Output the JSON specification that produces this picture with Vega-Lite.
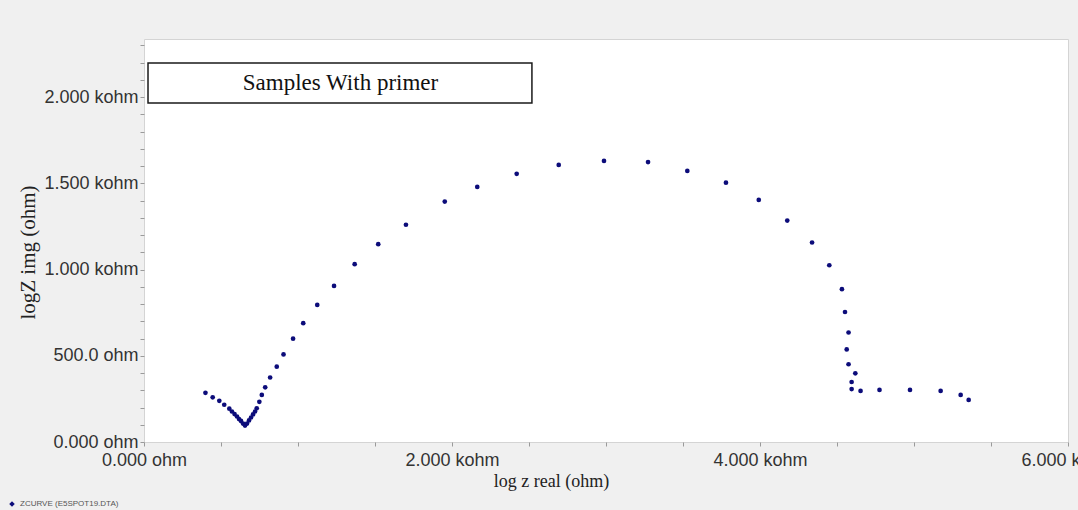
{
  "$schema": "https://vega.github.io/schema/vega-lite/v6.json",
  "width": 924,
  "height": 403,
  "autosize": {"type": "none"},
  "padding": {"left": 144, "top": 39, "right": 10, "bottom": 68},
  "background": "#f0f0f0",
  "config": {
    "view": {"fill": "white", "stroke": "#d4d4d4", "strokeWidth": 1},
    "axis": {
      "grid": false,
      "domain": false,
      "tickColor": "#9a9a9a",
      "tickSize": 4,
      "labelFont": "Liberation Sans",
      "labelFontSize": 18,
      "labelColor": "#333333",
      "labelFlush": false,
      "labelOverlap": false,
      "labelBound": false,
      "titleFont": "Liberation Serif",
      "titleFontWeight": "normal",
      "titleColor": "#222222"
    }
  },
  "layer": [
    {
      "data": {
        "values": [
          {"zreal": 399, "zimg": 285, "series": "ZCURVE (E5SPOT19.DTA)"},
          {"zreal": 446, "zimg": 259, "series": "ZCURVE (E5SPOT19.DTA)"},
          {"zreal": 489, "zimg": 239, "series": "ZCURVE (E5SPOT19.DTA)"},
          {"zreal": 521, "zimg": 216, "series": "ZCURVE (E5SPOT19.DTA)"},
          {"zreal": 554, "zimg": 193, "series": "ZCURVE (E5SPOT19.DTA)"},
          {"zreal": 571, "zimg": 177, "series": "ZCURVE (E5SPOT19.DTA)"},
          {"zreal": 588, "zimg": 162, "series": "ZCURVE (E5SPOT19.DTA)"},
          {"zreal": 604, "zimg": 148, "series": "ZCURVE (E5SPOT19.DTA)"},
          {"zreal": 617, "zimg": 133, "series": "ZCURVE (E5SPOT19.DTA)"},
          {"zreal": 630, "zimg": 122, "series": "ZCURVE (E5SPOT19.DTA)"},
          {"zreal": 643, "zimg": 107, "series": "ZCURVE (E5SPOT19.DTA)"},
          {"zreal": 656, "zimg": 95, "series": "ZCURVE (E5SPOT19.DTA)"},
          {"zreal": 669, "zimg": 107, "series": "ZCURVE (E5SPOT19.DTA)"},
          {"zreal": 682, "zimg": 125, "series": "ZCURVE (E5SPOT19.DTA)"},
          {"zreal": 695, "zimg": 142, "series": "ZCURVE (E5SPOT19.DTA)"},
          {"zreal": 708, "zimg": 160, "series": "ZCURVE (E5SPOT19.DTA)"},
          {"zreal": 721, "zimg": 177, "series": "ZCURVE (E5SPOT19.DTA)"},
          {"zreal": 732, "zimg": 195, "series": "ZCURVE (E5SPOT19.DTA)"},
          {"zreal": 749, "zimg": 233, "series": "ZCURVE (E5SPOT19.DTA)"},
          {"zreal": 765, "zimg": 273, "series": "ZCURVE (E5SPOT19.DTA)"},
          {"zreal": 787, "zimg": 317, "series": "ZCURVE (E5SPOT19.DTA)"},
          {"zreal": 819, "zimg": 374, "series": "ZCURVE (E5SPOT19.DTA)"},
          {"zreal": 862, "zimg": 437, "series": "ZCURVE (E5SPOT19.DTA)"},
          {"zreal": 906, "zimg": 508, "series": "ZCURVE (E5SPOT19.DTA)"},
          {"zreal": 968, "zimg": 599, "series": "ZCURVE (E5SPOT19.DTA)"},
          {"zreal": 1034, "zimg": 689, "series": "ZCURVE (E5SPOT19.DTA)"},
          {"zreal": 1125, "zimg": 795, "series": "ZCURVE (E5SPOT19.DTA)"},
          {"zreal": 1234, "zimg": 905, "series": "ZCURVE (E5SPOT19.DTA)"},
          {"zreal": 1368, "zimg": 1031, "series": "ZCURVE (E5SPOT19.DTA)"},
          {"zreal": 1521, "zimg": 1147, "series": "ZCURVE (E5SPOT19.DTA)"},
          {"zreal": 1701, "zimg": 1260, "series": "ZCURVE (E5SPOT19.DTA)"},
          {"zreal": 1953, "zimg": 1394, "series": "ZCURVE (E5SPOT19.DTA)"},
          {"zreal": 2164, "zimg": 1479, "series": "ZCURVE (E5SPOT19.DTA)"},
          {"zreal": 2420, "zimg": 1555, "series": "ZCURVE (E5SPOT19.DTA)"},
          {"zreal": 2693, "zimg": 1607, "series": "ZCURVE (E5SPOT19.DTA)"},
          {"zreal": 2987, "zimg": 1630, "series": "ZCURVE (E5SPOT19.DTA)"},
          {"zreal": 3273, "zimg": 1623, "series": "ZCURVE (E5SPOT19.DTA)"},
          {"zreal": 3528, "zimg": 1572, "series": "ZCURVE (E5SPOT19.DTA)"},
          {"zreal": 3779, "zimg": 1504, "series": "ZCURVE (E5SPOT19.DTA)"},
          {"zreal": 3992, "zimg": 1404, "series": "ZCURVE (E5SPOT19.DTA)"},
          {"zreal": 4177, "zimg": 1284, "series": "ZCURVE (E5SPOT19.DTA)"},
          {"zreal": 4338, "zimg": 1157, "series": "ZCURVE (E5SPOT19.DTA)"},
          {"zreal": 4450, "zimg": 1025, "series": "ZCURVE (E5SPOT19.DTA)"},
          {"zreal": 4532, "zimg": 886, "series": "ZCURVE (E5SPOT19.DTA)"},
          {"zreal": 4552, "zimg": 754, "series": "ZCURVE (E5SPOT19.DTA)"},
          {"zreal": 4575, "zimg": 635, "series": "ZCURVE (E5SPOT19.DTA)"},
          {"zreal": 4563, "zimg": 537, "series": "ZCURVE (E5SPOT19.DTA)"},
          {"zreal": 4575, "zimg": 451, "series": "ZCURVE (E5SPOT19.DTA)"},
          {"zreal": 4619, "zimg": 398, "series": "ZCURVE (E5SPOT19.DTA)"},
          {"zreal": 4595, "zimg": 348, "series": "ZCURVE (E5SPOT19.DTA)"},
          {"zreal": 4595, "zimg": 307, "series": "ZCURVE (E5SPOT19.DTA)"},
          {"zreal": 4653, "zimg": 296, "series": "ZCURVE (E5SPOT19.DTA)"},
          {"zreal": 4776, "zimg": 302, "series": "ZCURVE (E5SPOT19.DTA)"},
          {"zreal": 4974, "zimg": 302, "series": "ZCURVE (E5SPOT19.DTA)"},
          {"zreal": 5173, "zimg": 296, "series": "ZCURVE (E5SPOT19.DTA)"},
          {"zreal": 5303, "zimg": 273, "series": "ZCURVE (E5SPOT19.DTA)"},
          {"zreal": 5355, "zimg": 244, "series": "ZCURVE (E5SPOT19.DTA)"}
        ]
      },
      "mark": {"type": "point", "filled": true, "size": 22, "opacity": 1},
      "encoding": {
        "x": {
          "field": "zreal",
          "type": "quantitative",
          "scale": {"domain": [0, 6000], "nice": false, "zero": false},
          "axis": {
            "title": "log z real (ohm)",
            "titleFontSize": 18,
            "titleX": 407,
            "titleY": 39,
            "titleBaseline": "middle",
            "labelPadding": 5,
            "labelOverlap": false,
            "labelFlush": false,
            "tickCount": 40,
            "values": [0, 500, 1000, 1500, 2000, 2500, 3000, 3500, 4000, 4500, 5000, 5500, 6000],
            "labelExpr": "datum.value % 2000 != 0 ? '' : (datum.value == 0 ? '0.000 ohm' : format(datum.value / 1000, '.3f') + ' kohm')"
          }
        },
        "y": {
          "field": "zimg",
          "type": "quantitative",
          "scale": {"domain": [0, 2337], "nice": false, "zero": false},
          "axis": {
            "title": "logZ img (ohm)",
            "titleFontSize": 21,
            "titleX": -116,
            "titleY": 213,
            "titleAngle": -90,
            "titleBaseline": "middle",
            "titleAlign": "center",
            "labelPadding": 2,
            "labelOverlap": false,
            "labelFlush": false,
            "tickCount": 40,
            "values": [0, 100, 200, 300, 400, 500, 600, 700, 800, 900, 1000, 1100, 1200, 1300, 1400, 1500, 1600, 1700, 1800, 1900, 2000, 2100, 2200, 2300],
            "labelExpr": "datum.value % 500 != 0 ? '' : (datum.value == 0 ? '0.000 ohm' : (datum.value < 1000 ? format(datum.value, '.1f') + ' ohm' : format(datum.value / 1000, '.3f') + ' kohm'))"
          }
        },
        "color": {
          "field": "series",
          "type": "nominal",
          "scale": {"range": ["#0c0c7a"]},
          "legend": {
            "orient": "none",
            "legendX": -136,
            "legendY": 461,
            "title": null,
            "symbolType": "diamond",
            "symbolSize": 30,
            "labelFont": "Liberation Sans",
            "labelFontSize": 8,
            "labelColor": "#555555"
          }
        }
      }
    },
    {
      "data": {"values": [{"label": "Samples With primer"}]},
      "mark": {"type": "rect", "fill": "white", "stroke": "#1a1a1a", "strokeWidth": 1.5},
      "encoding": {
        "x": {"datum": 26, "type": "quantitative"},
        "x2": {"datum": 2519},
        "y": {"datum": 2198, "type": "quantitative"},
        "y2": {"datum": 1966}
      }
    },
    {
      "data": {"values": [{"label": "Samples With primer"}]},
      "mark": {"type": "text", "font": "Liberation Serif", "fontSize": 23, "color": "#111111", "align": "center", "baseline": "middle"},
      "encoding": {
        "x": {"datum": 1276, "type": "quantitative"},
        "y": {"datum": 2082, "type": "quantitative"},
        "text": {"field": "label"}
      }
    }
  ]
}
